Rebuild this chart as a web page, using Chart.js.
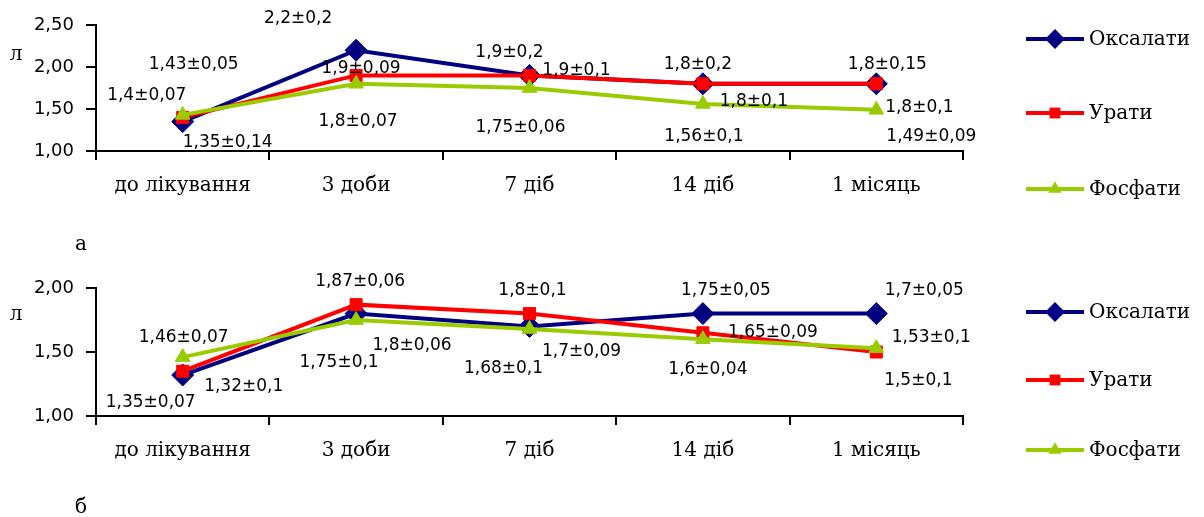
<!DOCTYPE html>
<html>
<head>
<meta charset="utf-8">
<script src="https://cdn.jsdelivr.net/npm/chart.js@4.4.1/dist/chart.umd.min.js"></script>
<style>
  body { margin: 0; background: #fff; width: 1204px; height: 517px; overflow: hidden; position: relative; }
  canvas { position: absolute; left: 0; }
</style>
</head>
<body>
<canvas id="Chart1" width="1204" height="258" style="top:0"></canvas>
<canvas id="Chart2" width="1204" height="259" style="top:258px"></canvas>
<script>
const categories = ['до лікування', '3 доби', '7 діб', '14 діб', '1 місяць'];
const series_names = ['Оксалати', 'Урати', 'Фосфати'];
const series_colors = ['#000080', '#ff0000', '#99cc00'];

// chart "а"
const oxalates_a = [1.35, 2.2, 1.9, 1.8, 1.8];
const urates_a = [1.4, 1.9, 1.9, 1.8, 1.8];
const phosphates_a = [1.43, 1.8, 1.75, 1.56, 1.49];
const oxalates_a_text = ['1,35±0,14', '2,2±0,2', '1,9±0,2', '1,8±0,2', '1,8±0,15'];
const urates_a_text = ['1,4±0,07', '1,9±0,09', '1,9±0,1', '1,8±0,1', '1,8±0,1'];
const phosphates_a_text = ['1,43±0,05', '1,8±0,07', '1,75±0,06', '1,56±0,1', '1,49±0,09'];
const ticks_a = [1.0, 1.5, 2.0, 2.5];

// chart "б"
const oxalates_b = [1.32, 1.8, 1.7, 1.8, 1.8];
const urates_b = [1.35, 1.87, 1.8, 1.65, 1.5];
const phosphates_b = [1.46, 1.75, 1.68, 1.6, 1.53];
const oxalates_b_text = ['1,32±0,1', '1,8±0,06', '1,7±0,09', '1,75±0,05', '1,7±0,05'];
const urates_b_text = ['1,35±0,07', '1,87±0,06', '1,8±0,1', '1,65±0,09', '1,5±0,1'];
const phosphates_b_text = ['1,46±0,07', '1,75±0,1', '1,68±0,1', '1,6±0,04', '1,53±0,1'];
const ticks_b = [1.0, 1.5, 2.0];

const point_styles = ['rectRot', 'rect', 'triangle'];
const point_radius = [11, 8.5, 8.5];

// label offsets from their point (px), per series
const label_offsets_a = [
    [[45, 21], [-58, -32], [-20, -23], [-5, -19], [11, -19]],
    [[-36, -22], [5, -7], [47, -5], [51, 18], [43, 24]],
    [[11, -50], [2, 38], [-9, 40], [1, 33], [55, 27]]
];
const label_offsets_b = [
    [[61, 12], [56, 32], [52, 25], [23, -23], [48, -23]],
    [[-32, 31], [4, -23], [3, -23], [70, 0], [42, 29]],
    [[1, -20], [-17, 43], [-26, 40], [5, 30], [55, -11]]
];

function draw_marker(ctx, style, r, x, y, color) {
    ctx.fillStyle = color;
    ctx.beginPath();
    if (style == 'rectRot') {
        ctx.moveTo(x, y - r); ctx.lineTo(x + r, y); ctx.lineTo(x, y + r); ctx.lineTo(x - r, y);
    } else if (style == 'rect') {
        let s = r * Math.SQRT1_2;
        ctx.rect(x - s, y - s, 2 * s, 2 * s);
    } else {
        ctx.moveTo(x, y - r);
        ctx.lineTo(x + r * Math.sin(2 * Math.PI / 3), y - r * Math.cos(2 * Math.PI / 3));
        ctx.lineTo(x + r * Math.sin(4 * Math.PI / 3), y - r * Math.cos(4 * Math.PI / 3));
    }
    ctx.closePath();
    ctx.fill();
}

const value_labels = {
    id: 'value_labels',
    afterDatasetsDraw(chart, args, opts) {
        const ctx = chart.ctx;
        ctx.save();
        ctx.font = '17px "DejaVu Sans"';
        ctx.fillStyle = '#000';
        ctx.textAlign = 'center';
        ctx.textBaseline = 'middle';
        chart.data.datasets.forEach((ds, i) => {
            chart.getDatasetMeta(i).data.forEach((pt, j) => {
                let off = opts.offsets[i][j];
                ctx.fillText(ds.texts[j], pt.x + off[0], pt.y + off[1]);
            });
        });
        ctx.restore();
    }
};

const side_legend = {
    id: 'side_legend',
    afterDraw(chart, args, opts) {
        const ctx = chart.ctx;
        ctx.save();
        chart.data.datasets.forEach((ds, i) => {
            let y = opts.rows[i];
            ctx.strokeStyle = ds.borderColor;
            ctx.lineWidth = 4;
            ctx.beginPath();
            ctx.moveTo(opts.x, y);
            ctx.lineTo(opts.x + 58, y);
            ctx.stroke();
            draw_marker(ctx, ds.pointStyle, ds.pointRadius * 0.9, opts.x + 29, y, ds.backgroundColor);
            ctx.fillStyle = '#000';
            ctx.font = '20px "DejaVu Serif"';
            ctx.textAlign = 'left';
            ctx.textBaseline = 'middle';
            ctx.fillText(ds.label, opts.x + 63, y + 1);
        });
        // axis caption and panel letter
        ctx.font = '20px "DejaVu Serif"';
        ctx.textAlign = 'center';
        ctx.textBaseline = 'alphabetic';
        ctx.fillText('л', 16, opts.unit_y);
        ctx.fillText(opts.panel, 81, opts.panel_y);
        ctx.restore();
    }
};

function make_chart(id, values, texts, ticks, offsets, area_top, area_bottom, legend_rows, panel, unit_y, panel_y) {
    let datasets = values.map((v, i) => ({
        label: series_names[i],
        data: v,
        texts: texts[i],
        borderColor: series_colors[i],
        backgroundColor: series_colors[i],
        borderWidth: 4,
        pointStyle: point_styles[i],
        pointRadius: point_radius[i],
        pointBorderWidth: 1,
        order: 3 - i,
        tension: 0
    }));
    let canvas = document.getElementById(id);
    let h = canvas.height;
    new Chart(canvas, {
        type: 'line',
        data: { labels: categories, datasets: datasets },
        plugins: [value_labels, side_legend],
        options: {
            responsive: false,
            animation: false,
            events: [],
            layout: { padding: { left: 0, right: 1204 - 963, top: area_top, bottom: 0 } },
            plugins: {
                legend: { display: false },
                tooltip: { enabled: false },
                value_labels: { offsets: offsets },
                side_legend: { x: 1026, rows: legend_rows, panel: panel, unit_y: unit_y, panel_y: panel_y }
            },
            scales: {
                x: {
                    offset: true,
                    afterFit: (scale) => { scale.height = h - area_bottom; },
                    grid: { display: true, drawOnChartArea: false, drawTicks: true, tickLength: 9, offset: true, color: '#000', lineWidth: 2 },
                    border: { display: true, color: '#000', width: 2 },
                    ticks: { color: '#000', font: { family: 'DejaVu Serif', size: 20 }, padding: 14, maxRotation: 0, autoSkip: false }
                },
                y: {
                    min: ticks[0],
                    max: ticks[ticks.length - 1],
                    afterFit: (scale) => { scale.width = 96; },
                    afterBuildTicks: (scale) => { scale.ticks = ticks.map(v => ({ value: v })); },
                    grid: { display: true, drawOnChartArea: false, drawTicks: true, tickLength: 10, color: '#000', lineWidth: 2 },
                    border: { display: true, color: '#000', width: 2 },
                    ticks: {
                        color: '#000',
                        font: { family: 'DejaVu Sans', size: 18 },
                        padding: 12,
                        callback: (v) => v.toFixed(2).replace('.', ',')
                    }
                }
            }
        }
    });
}

make_chart('Chart1',
    [oxalates_a, urates_a, phosphates_a],
    [oxalates_a_text, urates_a_text, phosphates_a_text],
    ticks_a, label_offsets_a, 25, 151, [39, 113, 189], 'а', 60, 250);

make_chart('Chart2',
    [oxalates_b, urates_b, phosphates_b],
    [oxalates_b_text, urates_b_text, phosphates_b_text],
    ticks_b, label_offsets_b, 30, 158, [54, 122, 192], 'б', 62, 255);
</script>
</body>
</html>
